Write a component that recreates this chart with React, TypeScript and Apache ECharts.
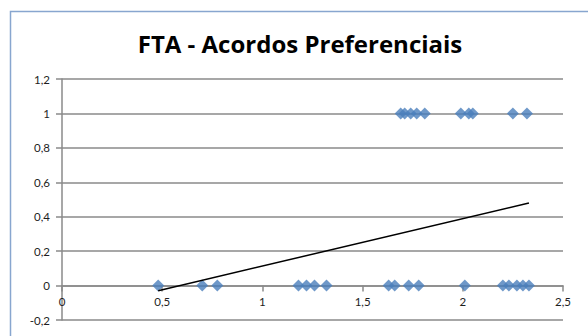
import React, { useEffect, useRef } from "react";
import * as echarts from "echarts";

// Observations with outcome 1 (FTA in force)
const xWithAgreement: number[] = [1.69, 1.71, 1.74, 1.77, 1.81, 1.99, 2.03, 2.05, 2.25, 2.32];
// Observations with outcome 0
const xWithoutAgreement: number[] = [
  0.48, 0.7, 0.775, 1.18, 1.22, 1.26, 1.32, 1.63, 1.66, 1.73, 1.78, 2.01, 2.2, 2.23, 2.27, 2.3, 2.33,
];
// Linear trend line end points
const trendX: number[] = [0.48, 2.33];
const trendY: number[] = [-0.03, 0.48];

const TITLE = "FTA - Acordos Preferenciais";
const FONT = "Lato, 'Open Sans', 'DejaVu Sans', sans-serif";
const TITLE_FONT = "'Open Sans', Lato, 'DejaVu Sans', sans-serif";
const GRID_GRAY = "#8a8a8a";
const MARKER_BLUE = "#4a7ebb";

const Y_MIN = -0.2;
const Y_MAX = 1.2;
const GRID_TOP = 79;
const GRID_BOTTOM = 16;
const HEIGHT = 336;

const fmt = (v: number) => String(Math.round(v * 10) / 10).replace(".", ",");

// the x axis crosses the y axis at 0, so lift it from the grid's bottom edge
const plotHeight = HEIGHT - GRID_TOP - GRID_BOTTOM;
const xAxisLift = (plotHeight * (0 - Y_MIN)) / (Y_MAX - Y_MIN);

export default function App() {
  const ref = useRef<HTMLDivElement>(null);

  useEffect(() => {
    if (!ref.current) return;
    const chart = echarts.init(ref.current, undefined, { renderer: "svg" });
    chart.setOption({
      animation: false,
      backgroundColor: "#ffffff",
      graphic: [
        {
          type: "rect",
          shape: { x: 10.5, y: 11.5, width: 620, height: 400 },
          style: { fill: "none", stroke: "#88a6cf", lineWidth: 1.5 },
          silent: true,
        },
        {
          type: "text",
          x: 300,
          y: 43,
          style: {
            text: TITLE,
            fontFamily: TITLE_FONT,
            fontSize: 24,
            fontWeight: "bold",
            fill: "#000000",
            textAlign: "center",
            textVerticalAlign: "middle",
          },
          silent: true,
        },
      ],
      grid: { left: 62, right: 25, top: GRID_TOP, bottom: GRID_BOTTOM, containLabel: false },
      xAxis: {
        type: "value",
        min: 0,
        max: 2.5,
        interval: 0.5,
        offset: -xAxisLift,
        axisLine: { show: true, onZero: false, lineStyle: { color: GRID_GRAY, width: 1.5 } },
        axisTick: { show: true, length: 6, lineStyle: { color: GRID_GRAY, width: 1.5 } },
        axisLabel: {
          formatter: fmt,
          fontFamily: FONT,
          fontSize: 11.5,
          color: "#1e1e1e",
          margin: 10,
        },
        splitLine: { show: false },
      },
      yAxis: {
        type: "value",
        min: Y_MIN,
        max: Y_MAX,
        interval: 0.2,
        axisLine: { show: true, onZero: false, lineStyle: { color: GRID_GRAY, width: 1.5 } },
        axisTick: { show: true, length: 6, lineStyle: { color: GRID_GRAY, width: 1.5 } },
        axisLabel: {
          formatter: fmt,
          fontFamily: FONT,
          fontSize: 11.5,
          color: "#1e1e1e",
          margin: 12,
        },
        splitLine: { show: true, lineStyle: { color: GRID_GRAY, width: 1.5 } },
      },
      series: [
        {
          type: "scatter",
          symbol: "diamond",
          symbolSize: 12,
          itemStyle: { color: MARKER_BLUE },
          data: xWithAgreement.map((x) => [x, 1]),
          z: 2,
        },
        {
          type: "scatter",
          symbol: "diamond",
          symbolSize: 12,
          itemStyle: { color: MARKER_BLUE },
          data: xWithoutAgreement.map((x) => [x, 0]),
          z: 2,
        },
        {
          type: "line",
          symbol: "none",
          lineStyle: { color: "#000000", width: 1.5 },
          data: trendX.map((x, i) => [x, trendY[i]]),
          z: 3,
        },
      ],
    });
    return () => chart.dispose();
  }, []);

  return (
    <div
      ref={ref}
      style={{ position: "fixed", left: 0, top: 0, width: 588, height: 336, background: "#ffffff" }}
    />
  );
}
